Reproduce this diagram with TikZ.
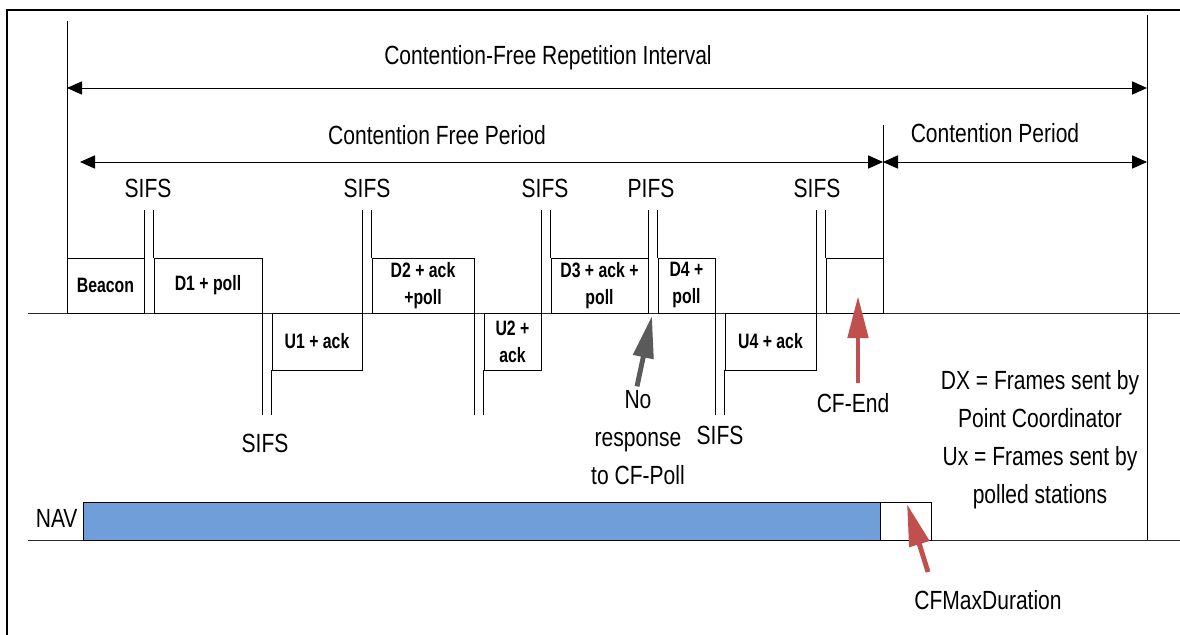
\documentclass[tikz,border=0pt]{standalone}
\usepackage{fontspec}
\setmainfont{Liberation Sans}[FakeStretch=0.8]
\newfontfamily\framefont{Liberation Sans}[FakeStretch=0.76]
\usepackage{tikz}
\usetikzlibrary{arrows.meta, positioning, fit}
\definecolor{navblue}{RGB}{112,158,216}
\definecolor{markred}{RGB}{192,80,77}
\definecolor{markgray}{RGB}{90,90,90}
\definecolor{linegray}{RGB}{40,40,40}
\tikzset{
  lbl/.style={font=\fontsize{18.7}{27}\selectfont, align=center, inner sep=0pt},
  frm/.style={draw, inner sep=0pt},
  frmtext/.style={align=center, inner sep=0pt,
    font=\framefont\fontsize{14.8}{19.2}\selectfont\bfseries},
  navbar/.style={draw, inner sep=0pt},
  spanarrow/.style={{Triangle[length=3.75mm,width=3.3mm]}-{Triangle[length=3.75mm,width=3.3mm]},
    line width=0.7pt},
  gapline/.style={line width=0.7pt},
  redarrow/.style={-{Triangle[length=10.5mm,width=5mm]}, line width=3.5pt, color=markred},
  grayarrow/.style={-{Triangle[length=10.5mm,width=5mm]}, line width=3.5pt, color=markgray},
}

\begin{document}
\begin{tikzpicture}[x=0.025cm, y=-0.025cm, line width=0.7pt]
  \useasboundingbox (0,0) rectangle (1180,635);

  % outer frame (cut at right and bottom)
  \draw[line width=1pt] (1180,10) -- (7,10) -- (7,635);

  % time lines
  \draw[linegray] (28,313) -- (1180,313);
  \draw[linegray] (28,540) -- (1180,540);

  \coordinate (start) at (67,21);
  \coordinate (cfpend) at (883,125);
  \coordinate (repend) at (1147,15);
  \draw (start) -- (67,313);
  \draw (cfpend) -- (883,313);
  \draw (repend) -- (1147,540);

  % intervals
  \coordinate (cfriL) at (67,88);
  \coordinate (cfriR) at (1147,88);
  \coordinate (cfpL) at (80,162);
  \coordinate (cfpR) at (883,162);
  \coordinate (cpR) at (1147,162);
  \draw[spanarrow] (cfriL) -- (cfriR);
  \draw[spanarrow] (cfpL) -- (cfpR);
  \draw[spanarrow] (cfpR) -- (cpR);
  \node[lbl] (cfri) at (548,58) {Contention-Free Repetition Interval};
  \node[lbl] (cfp) at (437,135) {Contention Free Period};
  \node[lbl] (cp) at (995,133) {Contention Period};

  % frames
  \node[frm, fit={(67,258) (144,313)}, label={[frmtext]center:Beacon}] (beacon) {};
  \node[frm, fit={(154,258) (262,313)}, label={[frmtext]center:D1 + poll}] (d1) {};
  \node[frm, fit={(272,313) (362,370)}, label={[frmtext]center:U1 + ack}] (u1) {};
  \node[frm, fit={(372,258) (474,313)}, label={[frmtext]center:D2 + ack\\+poll}] (d2) {};
  \node[frm, fit={(484,313) (541,370)}, label={[frmtext]center:U2 +\\ack}] (u2) {};
  \node[frm, fit={(551,258) (648,313)}, label={[frmtext]center:D3 + ack +\\poll}] (d3) {};
  \node[frm, fit={(658,258) (715,313)}, label={[frmtext]center:D4 +\\poll}] (d4) {};
  \node[frm, fit={(725,313) (816,370)}, label={[frmtext]center:U4 + ack}] (u4) {};
  \node[frm, fit={(826,258) (883,313)}] (cfend) {};

  % inter frame spaces
  \draw[gapline] (beacon.north east) -- ++(0,-48);
  \draw[gapline] (d1.north west) -- ++(0,-48);
  \draw[gapline] (d1.south east) -- ++(0,102);
  \draw[gapline] (u1.south west) -- ++(0,45);
  \draw[gapline] (u1.north east) -- ++(0,-103);
  \draw[gapline] (d2.north west) -- ++(0,-48);
  \draw[gapline] (d2.south east) -- ++(0,102);
  \draw[gapline] (u2.south west) -- ++(0,45);
  \draw[gapline] (u2.north east) -- ++(0,-103);
  \draw[gapline] (d3.north west) -- ++(0,-48);
  \draw[gapline] (d3.north east) -- ++(0,-48);
  \draw[gapline] (d4.north west) -- ++(0,-48);
  \draw[gapline] (d4.south east) -- ++(0,102);
  \draw[gapline] (u4.south west) -- ++(0,45);
  \draw[gapline] (u4.north east) -- ++(0,-103);
  \draw[gapline] (cfend.north west) -- ++(0,-48);

  \node[lbl] (sifs1) at (148,188) {SIFS};
  \node[lbl] (sifs2) at (265,443) {SIFS};
  \node[lbl] (sifs3) at (367,188) {SIFS};
  \node[lbl] (sifs4) at (545,188) {SIFS};
  \node[lbl] (pifs) at (651,188) {PIFS};
  \node[lbl] (sifs5) at (720,435) {SIFS};
  \node[lbl] (sifs6) at (817,188) {SIFS};

  % annotations
  \node[lbl] (noresp) at (638,438) {No\\response\\to CF-Poll};
  \coordinate (noresptip) at (652,316);
  \draw[grayarrow] (noresp.north) ++(-1,-4) coordinate (norespfoot) (norespfoot) -- (noresptip);

  \node[lbl] (cfendlbl) at (853,403) {CF-End};
  \coordinate (cfendtip) at (858,296);
  \draw[redarrow] (cfendlbl.north -| cfendtip) ++(0,-10) coordinate (cfendfoot) (cfendfoot) -- (cfendtip);

  \node[lbl] (legend) at (1040,440)
    {DX = Frames sent by\\Point Coordinator\\Ux = Frames sent by\\polled stations};

  % NAV
  \node[lbl, anchor=east] (nav) at (78,518) {NAV};
  \node[navbar, fill=navblue, fit={(83,502) (880,540)}] (navset) {};
  \node[navbar, fill=white, fit={(880,502) (931,540)}] (navmax) {};

  \node[lbl] (cfmax) at (988,600) {CFMaxDuration};
  \coordinate (cfmaxtip) at (907,504);
  \coordinate (cfmaxfoot) at (928,572);
  \draw[redarrow] (cfmaxfoot) -- (cfmaxtip);
\end{tikzpicture}
\end{document}
